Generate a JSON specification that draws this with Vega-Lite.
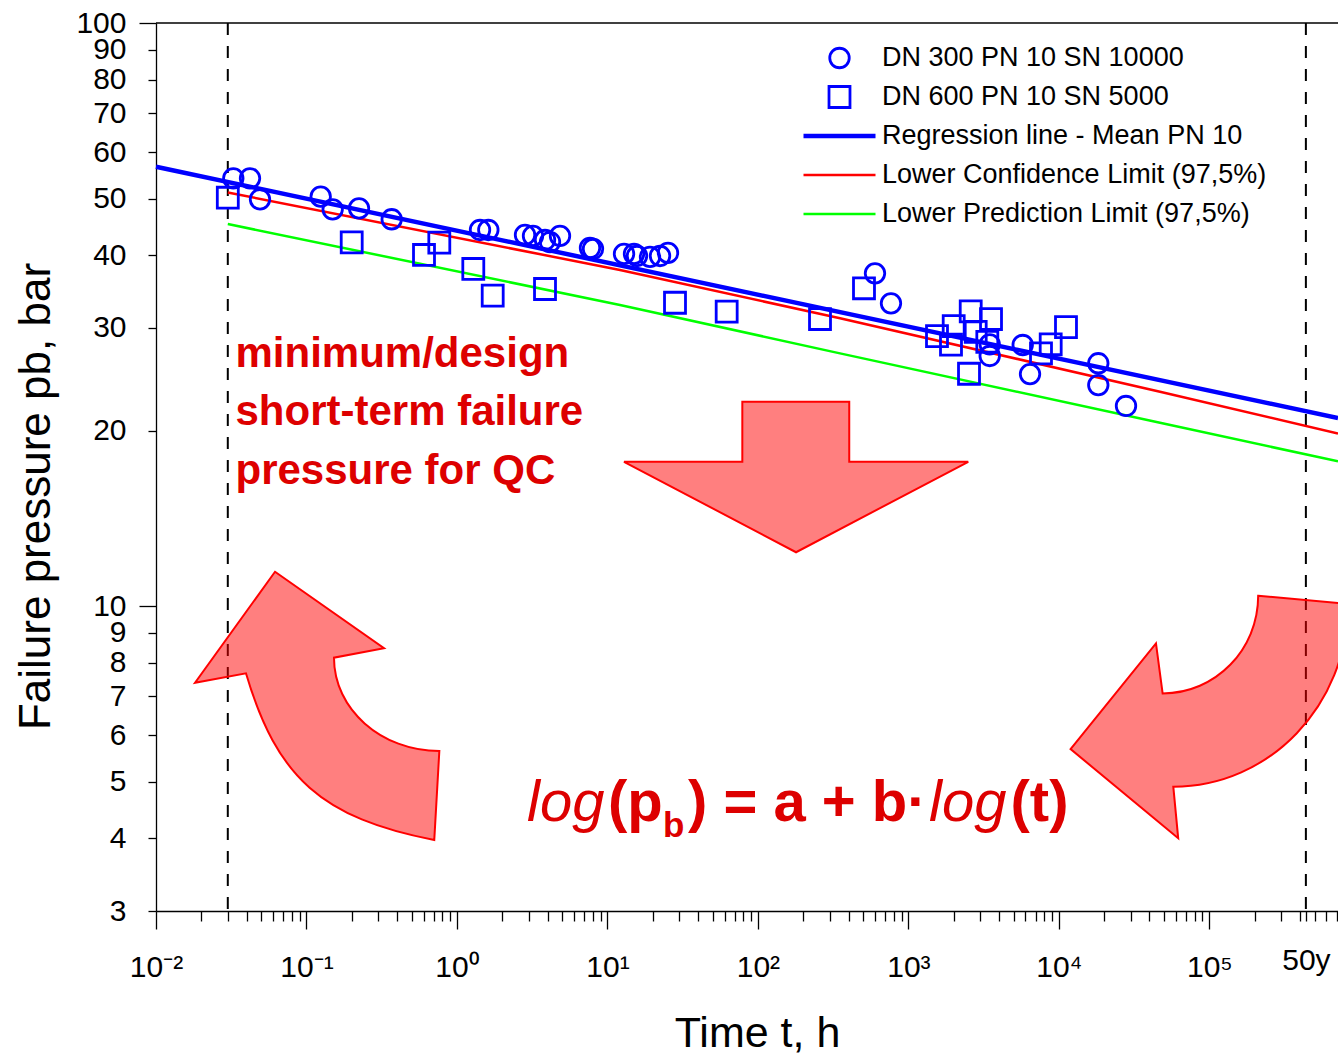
{
  "$schema": "https://vega.github.io/schema/vega-lite/v6.json",
  "width": 1182,
  "height": 888,
  "autosize": {"type": "none"},
  "padding": {"left": 156, "top": 23, "right": 0, "bottom": 143},
  "background": "white",
  "config": {
    "font": "Liberation Sans",
    "view": {"stroke": null},
    "axis": {
      "grid": false,
      "domainColor": "#000000",
      "domainWidth": 1.3,
      "tickColor": "#000000",
      "tickWidth": 1.3,
      "labelColor": "#000000",
      "titleColor": "#000000",
      "labelFont": "Liberation Sans",
      "titleFont": "Liberation Sans",
      "titleFontWeight": "normal"
    }
  },
  "datasets": {
    "markers": [{"t": 0.03}, {"t": 438000}],
    "frame": [{"p": 100}],
    "points": [
      {"series": "DN 300 PN 10 SN 10000", "t": 0.03264, "p": 54.16},
      {"series": "DN 300 PN 10 SN 10000", "t": 0.04214, "p": 54.16},
      {"series": "DN 300 PN 10 SN 10000", "t": 0.0491, "p": 49.85},
      {"series": "DN 300 PN 10 SN 10000", "t": 0.1243, "p": 50.36},
      {"series": "DN 300 PN 10 SN 10000", "t": 0.1493, "p": 47.92},
      {"series": "DN 300 PN 10 SN 10000", "t": 0.2234, "p": 48.11},
      {"series": "DN 300 PN 10 SN 10000", "t": 0.3684, "p": 46.07},
      {"series": "DN 300 PN 10 SN 10000", "t": 1.423, "p": 44.16},
      {"series": "DN 300 PN 10 SN 10000", "t": 1.616, "p": 44.16},
      {"series": "DN 300 PN 10 SN 10000", "t": 2.833, "p": 43.3},
      {"series": "DN 300 PN 10 SN 10000", "t": 3.202, "p": 43.13},
      {"series": "DN 300 PN 10 SN 10000", "t": 3.847, "p": 42.45},
      {"series": "DN 300 PN 10 SN 10000", "t": 4.152, "p": 42.11},
      {"series": "DN 300 PN 10 SN 10000", "t": 4.839, "p": 43.13},
      {"series": "DN 300 PN 10 SN 10000", "t": 7.657, "p": 41.13},
      {"series": "DN 300 PN 10 SN 10000", "t": 8.017, "p": 40.97},
      {"series": "DN 300 PN 10 SN 10000", "t": 12.89, "p": 40.17},
      {"series": "DN 300 PN 10 SN 10000", "t": 15.02, "p": 40.17},
      {"series": "DN 300 PN 10 SN 10000", "t": 15.72, "p": 39.85},
      {"series": "DN 300 PN 10 SN 10000", "t": 19.18, "p": 39.7},
      {"series": "DN 300 PN 10 SN 10000", "t": 22.36, "p": 39.85},
      {"series": "DN 300 PN 10 SN 10000", "t": 25.26, "p": 40.33},
      {"series": "DN 300 PN 10 SN 10000", "t": 599.8, "p": 37.22},
      {"series": "DN 300 PN 10 SN 10000", "t": 766.1, "p": 33.05},
      {"series": "DN 300 PN 10 SN 10000", "t": 3471, "p": 28.12},
      {"series": "DN 300 PN 10 SN 10000", "t": 3471, "p": 26.85},
      {"series": "DN 300 PN 10 SN 10000", "t": 5750, "p": 28.04},
      {"series": "DN 300 PN 10 SN 10000", "t": 6431, "p": 25.0},
      {"series": "DN 300 PN 10 SN 10000", "t": 18280, "p": 26.09},
      {"series": "DN 300 PN 10 SN 10000", "t": 18280, "p": 23.94},
      {"series": "DN 300 PN 10 SN 10000", "t": 27930, "p": 22.04},
      {"series": "DN 600 PN 10 SN 5000", "t": 0.03, "p": 50.16},
      {"series": "DN 600 PN 10 SN 5000", "t": 0.1998, "p": 42.06},
      {"series": "DN 600 PN 10 SN 5000", "t": 0.6039, "p": 40.01},
      {"series": "DN 600 PN 10 SN 5000", "t": 0.7633, "p": 42.0},
      {"series": "DN 600 PN 10 SN 5000", "t": 1.284, "p": 37.86},
      {"series": "DN 600 PN 10 SN 5000", "t": 1.728, "p": 34.07},
      {"series": "DN 600 PN 10 SN 5000", "t": 3.847, "p": 34.98},
      {"series": "DN 600 PN 10 SN 5000", "t": 28.12, "p": 33.13},
      {"series": "DN 600 PN 10 SN 5000", "t": 62.0, "p": 31.98},
      {"series": "DN 600 PN 10 SN 5000", "t": 258.6, "p": 31.07},
      {"series": "DN 600 PN 10 SN 5000", "t": 506.9, "p": 35.08},
      {"series": "DN 600 PN 10 SN 5000", "t": 1549, "p": 29.05},
      {"series": "DN 600 PN 10 SN 5000", "t": 1919, "p": 28.07},
      {"series": "DN 600 PN 10 SN 5000", "t": 2000, "p": 30.22},
      {"series": "DN 600 PN 10 SN 5000", "t": 2595, "p": 32.03},
      {"series": "DN 600 PN 10 SN 5000", "t": 3540, "p": 31.07},
      {"series": "DN 600 PN 10 SN 5000", "t": 2801, "p": 29.54},
      {"series": "DN 600 PN 10 SN 5000", "t": 3345, "p": 28.4},
      {"series": "DN 600 PN 10 SN 5000", "t": 2528, "p": 25.03},
      {"series": "DN 600 PN 10 SN 5000", "t": 7606, "p": 27.13},
      {"series": "DN 600 PN 10 SN 5000", "t": 8824, "p": 28.12},
      {"series": "DN 600 PN 10 SN 5000", "t": 11150, "p": 30.1}
    ],
    "lines": [
      {"series": "Regression line - Mean PN 10", "t": 0.01, "p": 56.7},
      {"series": "Regression line - Mean PN 10", "t": 716000, "p": 21.02},
      {"series": "Lower Confidence Limit (97,5%)", "t": 0.03, "p": 51.2},
      {"series": "Lower Confidence Limit (97,5%)", "t": 12.12, "p": 37.71},
      {"series": "Lower Confidence Limit (97,5%)", "t": 351.2, "p": 31.16},
      {"series": "Lower Confidence Limit (97,5%)", "t": 46990, "p": 23.32},
      {"series": "Lower Confidence Limit (97,5%)", "t": 716000, "p": 19.77},
      {"series": "Lower Prediction Limit (97,5%)", "t": 0.03, "p": 45.21},
      {"series": "Lower Prediction Limit (97,5%)", "t": 12.12, "p": 32.84},
      {"series": "Lower Prediction Limit (97,5%)", "t": 351.2, "p": 27.13},
      {"series": "Lower Prediction Limit (97,5%)", "t": 46990, "p": 20.63},
      {"series": "Lower Prediction Limit (97,5%)", "t": 716000, "p": 17.71}
    ],
    "arrows": [
      {"name": "down", "t": 179.7, "p": 16.65},
      {"name": "left", "t": 0.1178, "p": 6.745},
      {"name": "right", "t": 100000, "p": 6.453}
    ],
    "annotations": [
      {"kind": "note", "label": "minimum/design\nshort-term failure\npressure for QC", "t": 0.03375, "p": 25.71},
      {"kind": "italic", "label": "log", "t": 2.921, "p": 4.279},
      {"kind": "bold", "label": "(p", "t": 10.09, "p": 4.279},
      {"kind": "sub", "label": "b", "t": 23.4, "p": 4.018},
      {"kind": "bold", "label": ") = a + b·", "t": 34.3, "p": 4.279},
      {"kind": "italic", "label": "log", "t": 1370.6, "p": 4.279},
      {"kind": "bold", "label": "(t)", "t": 4770, "p": 4.279}
    ]
  },
  "layer": [
    {
      "data": {"name": "markers"},
      "mark": {"type": "rule", "stroke": "#000000", "strokeWidth": 2, "strokeDash": [12, 11]},
      "encoding": {
        "x": {
          "field": "t", "type": "quantitative",
          "scale": {"type": "log", "domain": [0.01, 716000], "nice": false},
          "axis": {
            "orient": "bottom",
            "values": [0.01, 0.02, 0.03, 0.04, 0.05, 0.06, 0.07, 0.08, 0.09,
                       0.1, 0.2, 0.3, 0.4, 0.5, 0.6, 0.7, 0.8, 0.9,
                       1, 2, 3, 4, 5, 6, 7, 8, 9,
                       10, 20, 30, 40, 50, 60, 70, 80, 90,
                       100, 200, 300, 400, 500, 600, 700, 800, 900,
                       1000, 2000, 3000, 4000, 5000, 6000, 7000, 8000, 9000,
                       10000, 20000, 30000, 40000, 50000, 60000, 70000, 80000, 90000,
                       100000, 200000, 300000, 400000, 438000, 500000, 600000, 700000],
            "labelExpr": "datum.value == 438000 ? '50y' : (abs(log(datum.value)/LN10 - round(log(datum.value)/LN10)) < 0.000001 ? '10' + ['⁻²','⁻¹','⁰','¹','²','³','⁴','⁵'][round(log(datum.value)/LN10) + 2] : '')",
            "tickSize": 18,
            "tickDash": {"condition": {"test": "abs(log(datum.value)/LN10 - round(log(datum.value)/LN10)) > 0.000001", "value": [10, 40]}, "value": [100, 0]},
            "labelPadding": {"condition": {"test": "datum.value == 438000", "value": 40}, "value": 47},
            "labelBaseline": "alphabetic",
            "labelFontSize": 30,
            "labelOverlap": false,
            "labelFlush": false,
            "title": "Time t, h",
            "titleFontSize": 43,
            "titleX": 601,
            "titleY": 135,
            "titleBaseline": "alphabetic",
            "titleAlign": "center"
          }
        }
      }
    },
    {
      "data": {"name": "frame"},
      "mark": {"type": "rule", "stroke": "#000000", "strokeWidth": 1.3},
      "encoding": {
        "y": {
          "field": "p", "type": "quantitative",
          "scale": {"type": "log", "domain": [3, 100], "nice": false},
          "axis": {
            "orient": "left",
            "values": [3, 4, 5, 6, 7, 8, 9, 10, 20, 30, 40, 50, 60, 70, 80, 90, 100],
            "labelExpr": "format(datum.value, 'd')",
            "tickSize": 17,
            "tickDash": {"condition": {"test": "datum.value != 10 && datum.value != 100", "value": [8, 40]}, "value": [100, 0]},
            "labelPadding": 13,
            "labelFontSize": 30,
            "labelOverlap": false,
            "labelFlush": false,
            "title": "Failure pressure pb, bar",
            "titleFontSize": 44,
            "titleAngle": 270,
            "titleX": -107,
            "titleY": 473,
            "titleBaseline": "alphabetic",
            "titleAlign": "center"
          }
        }
      }
    },
    {
      "data": {"name": "lines"},
      "transform": [{"filter": "datum.series == 'Lower Prediction Limit (97,5%)'"}],
      "mark": {"type": "line", "strokeCap": "butt", "color": "#00ff00", "strokeWidth": 2.5},
      "encoding": {
        "x": {"field": "t", "type": "quantitative", "scale": {"type": "log", "domain": [0.01, 716000], "nice": false}},
        "y": {"field": "p", "type": "quantitative", "scale": {"type": "log", "domain": [3, 100], "nice": false}}
      }
    },
    {
      "data": {"name": "lines"},
      "transform": [{"filter": "datum.series == 'Lower Confidence Limit (97,5%)'"}],
      "mark": {"type": "line", "strokeCap": "butt", "color": "#ff0000", "strokeWidth": 2.5},
      "encoding": {
        "x": {"field": "t", "type": "quantitative", "scale": {"type": "log", "domain": [0.01, 716000], "nice": false}},
        "y": {"field": "p", "type": "quantitative", "scale": {"type": "log", "domain": [3, 100], "nice": false}}
      }
    },
    {
      "data": {"name": "lines"},
      "transform": [{"filter": "datum.series == 'Regression line - Mean PN 10'"}],
      "mark": {"type": "line", "strokeCap": "butt", "color": "#0000ff", "strokeWidth": 4.5},
      "encoding": {
        "x": {"field": "t", "type": "quantitative", "scale": {"type": "log", "domain": [0.01, 716000], "nice": false}},
        "y": {"field": "p", "type": "quantitative", "scale": {"type": "log", "domain": [3, 100], "nice": false}}
      }
    },
    {
      "data": {"name": "points"},
      "mark": {"type": "point", "filled": false, "opacity": 1},
      "encoding": {
        "x": {"field": "t", "type": "quantitative", "scale": {"type": "log", "domain": [0.01, 716000], "nice": false}},
        "y": {"field": "p", "type": "quantitative", "scale": {"type": "log", "domain": [3, 100], "nice": false}},
        "color": {
          "field": "series", "type": "nominal",
          "scale": {"domain": ["DN 300 PN 10 SN 10000", "DN 600 PN 10 SN 5000", "Regression line - Mean PN 10", "Lower Confidence Limit (97,5%)", "Lower Prediction Limit (97,5%)"], "range": ["#0000ff", "#0000ff", "#0000ff", "#ff0000", "#00ff00"]},
          "legend": {"title": null, "orient": "none", "legendX": 645, "legendY": 20, "labelFontSize": 27, "labelFont": "Liberation Sans", "labelColor": "#000000", "labelLimit": 800, "clipHeight": 30, "rowPadding": 9, "padding": 0, "labelOffset": 4, "symbolOffset": 0}
        },
        "shape": {
          "field": "series", "type": "nominal",
          "scale": {"domain": ["DN 300 PN 10 SN 10000", "DN 600 PN 10 SN 5000", "Regression line - Mean PN 10", "Lower Confidence Limit (97,5%)", "Lower Prediction Limit (97,5%)"], "range": ["circle", "square", "stroke", "stroke", "stroke"]},
          "legend": {"title": null, "orient": "none", "legendX": 645, "legendY": 20, "labelFontSize": 27, "labelFont": "Liberation Sans", "labelColor": "#000000", "labelLimit": 800, "clipHeight": 30, "rowPadding": 9, "padding": 0, "labelOffset": 4, "symbolOffset": 0}
        },
        "size": {
          "field": "series", "type": "nominal",
          "scale": {"type": "ordinal", "domain": ["DN 300 PN 10 SN 10000", "DN 600 PN 10 SN 5000", "Regression line - Mean PN 10", "Lower Confidence Limit (97,5%)", "Lower Prediction Limit (97,5%)"], "range": [380, 440, 5184, 5184, 5184]},
          "legend": {"title": null, "orient": "none", "legendX": 645, "legendY": 20, "labelFontSize": 27, "labelFont": "Liberation Sans", "labelColor": "#000000", "labelLimit": 800, "clipHeight": 30, "rowPadding": 9, "padding": 0, "labelOffset": 4, "symbolOffset": 0}
        },
        "strokeWidth": {
          "field": "series", "type": "nominal",
          "scale": {"type": "ordinal", "domain": ["DN 300 PN 10 SN 10000", "DN 600 PN 10 SN 5000", "Regression line - Mean PN 10", "Lower Confidence Limit (97,5%)", "Lower Prediction Limit (97,5%)"], "range": [2.8, 2.8, 4.5, 2.5, 2.5]},
          "legend": {"title": null, "orient": "none", "legendX": 645, "legendY": 20, "labelFontSize": 27, "labelFont": "Liberation Sans", "labelColor": "#000000", "labelLimit": 800, "clipHeight": 30, "rowPadding": 9, "padding": 0, "labelOffset": 4, "symbolOffset": 0}
        }
      }
    },
    {
      "data": {"name": "arrows"},
      "transform": [{"filter": "datum.name == 'down'"}],
      "mark": {"type": "point", "filled": true, "opacity": 1, "fill": "#ff0000", "fillOpacity": 0.5, "stroke": "#ff0000", "strokeWidth": 2, "size": 122500,
               "shape": "M-0.308,-0.43L0.303,-0.43L0.303,-0.087L0.983,-0.087L-0.001,0.43L-0.984,-0.087L-0.308,-0.087Z"},
      "encoding": {
        "x": {"field": "t", "type": "quantitative", "scale": {"type": "log", "domain": [0.01, 716000], "nice": false}},
        "y": {"field": "p", "type": "quantitative", "scale": {"type": "log", "domain": [3, 100], "nice": false}}
      }
    },
    {
      "data": {"name": "arrows"},
      "transform": [{"filter": "datum.name == 'left'"}],
      "mark": {"type": "point", "filled": true, "opacity": 1, "fill": "#ff0000", "fillOpacity": 0.5, "stroke": "#ff0000", "strokeWidth": 2, "size": 122500,
               "shape": "M-0.241,-0.766L0.382,-0.329L0.096,-0.275C0.096,0.019,0.366,0.258,0.698,0.258L0.669,0.767C0.027,0.641,-0.23,0.413,-0.407,-0.186L-0.698,-0.132Z"},
      "encoding": {
        "x": {"field": "t", "type": "quantitative", "scale": {"type": "log", "domain": [0.01, 716000], "nice": false}},
        "y": {"field": "p", "type": "quantitative", "scale": {"type": "log", "domain": [3, 100], "nice": false}}
      }
    },
    {
      "data": {"name": "arrows"},
      "transform": [{"filter": "datum.name == 'right'"}],
      "mark": {"type": "point", "filled": true, "opacity": 1, "fill": "#ff0000", "fillOpacity": 0.5, "stroke": "#ff0000", "strokeWidth": 2, "size": 122500,
               "shape": "M0.279,-0.693L0.792,-0.646C0.792,-0.069,0.345,0.398,-0.206,0.398L-0.178,0.693L-0.793,0.183L-0.305,-0.421L-0.267,-0.135C0.035,-0.135,0.279,-0.385,0.279,-0.693Z"},
      "encoding": {
        "x": {"field": "t", "type": "quantitative", "scale": {"type": "log", "domain": [0.01, 716000], "nice": false}},
        "y": {"field": "p", "type": "quantitative", "scale": {"type": "log", "domain": [3, 100], "nice": false}}
      }
    },
    {
      "data": {"name": "annotations"},
      "transform": [{"filter": "datum.kind == 'note'"}],
      "mark": {"type": "text", "align": "left", "baseline": "alphabetic", "font": "Liberation Sans", "fontSize": 42, "fontWeight": "bold", "color": "#dd0000", "lineBreak": "\n", "lineHeight": 58.5},
      "encoding": {
        "x": {"field": "t", "type": "quantitative", "scale": {"type": "log", "domain": [0.01, 716000], "nice": false}},
        "y": {"field": "p", "type": "quantitative", "scale": {"type": "log", "domain": [3, 100], "nice": false}},
        "text": {"field": "label"}
      }
    },
    {
      "data": {"name": "annotations"},
      "transform": [{"filter": "datum.kind == 'italic'"}],
      "mark": {"type": "text", "align": "left", "baseline": "alphabetic", "font": "Liberation Sans", "fontSize": 58, "fontStyle": "italic", "fontWeight": "normal", "color": "#dd0000"},
      "encoding": {
        "x": {"field": "t", "type": "quantitative", "scale": {"type": "log", "domain": [0.01, 716000], "nice": false}},
        "y": {"field": "p", "type": "quantitative", "scale": {"type": "log", "domain": [3, 100], "nice": false}},
        "text": {"field": "label"}
      }
    },
    {
      "data": {"name": "annotations"},
      "transform": [{"filter": "datum.kind == 'bold'"}],
      "mark": {"type": "text", "align": "left", "baseline": "alphabetic", "font": "Liberation Sans", "fontSize": 58, "fontWeight": "bold", "color": "#dd0000"},
      "encoding": {
        "x": {"field": "t", "type": "quantitative", "scale": {"type": "log", "domain": [0.01, 716000], "nice": false}},
        "y": {"field": "p", "type": "quantitative", "scale": {"type": "log", "domain": [3, 100], "nice": false}},
        "text": {"field": "label"}
      }
    },
    {
      "data": {"name": "annotations"},
      "transform": [{"filter": "datum.kind == 'sub'"}],
      "mark": {"type": "text", "align": "left", "baseline": "alphabetic", "font": "Liberation Sans", "fontSize": 35, "fontWeight": "bold", "color": "#dd0000"},
      "encoding": {
        "x": {"field": "t", "type": "quantitative", "scale": {"type": "log", "domain": [0.01, 716000], "nice": false}},
        "y": {"field": "p", "type": "quantitative", "scale": {"type": "log", "domain": [3, 100], "nice": false}},
        "text": {"field": "label"}
      }
    }
  ]
}
